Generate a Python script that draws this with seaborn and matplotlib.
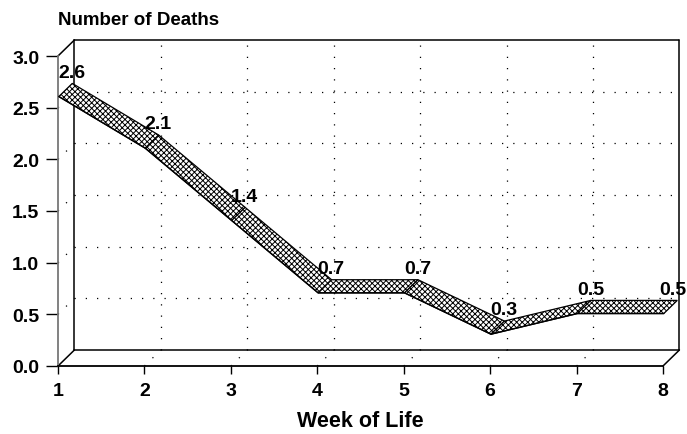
import seaborn as sns
import matplotlib.pyplot as plt
import pandas as pd
import numpy as np

# Data
weeks = [1, 2, 3, 4, 5, 6, 7, 8]
deaths = [2.6, 2.1, 1.4, 0.7, 0.7, 0.3, 0.5, 0.5]
y_ticks = [0.0, 0.5, 1.0, 1.5, 2.0, 2.5, 3.0]

df = pd.DataFrame({'Week': weeks, 'Deaths': deaths})

sns.set_style("white")
plt.rcParams['font.family'] = ['Liberation Sans', 'DejaVu Sans']
plt.rcParams['hatch.linewidth'] = 0.7
for key in ['text.color', 'axes.labelcolor', 'xtick.color', 'ytick.color']:
    plt.rcParams[key] = 'black'

fig = plt.figure(figsize=(6.87, 4.35), dpi=100)
ax = fig.add_axes([58 / 687, 68 / 435, 605 / 687, 310 / 435])
ax.set_xlim(1, 8)
ax.set_ylim(0, 3)

# fake 3D depth offset (data units)
dx, dy = 0.19, 0.155
r0, r1 = 0.05, 0.87  # ribbon depth from front to back
dots = (0, (1, 8))

# back wall grid (dotted)
for y in y_ticks[1:-1]:
    ax.plot([1 + dx, 8 + dx], [y + dy, y + dy], ls=dots, color='k', lw=0.9, clip_on=False)
    ax.plot([1, 1 + dx], [y, y + dy], ls=dots, color='k', lw=0.9, clip_on=False)
for x in weeks[1:-1]:
    ax.plot([x + dx, x + dx], [dy, 3 + dy], ls=dots, color='k', lw=0.9, clip_on=False)
    ax.plot([x, x + dx], [0, dy], ls=dots, color='k', lw=0.9, clip_on=False)

# box outlines
box = [([1 + dx, 8 + dx], [3 + dy, 3 + dy]), ([8 + dx, 8 + dx], [dy, 3 + dy]),
       ([1 + dx, 1 + dx], [dy, 3 + dy]), ([1 + dx, 8 + dx], [dy, dy]),
       ([1, 1 + dx], [3, 3 + dy]), ([1, 1 + dx], [0, dy]), ([8, 8 + dx], [0, dy])]
for xs, ys in box:
    ax.plot(xs, ys, color='k', lw=1.1, clip_on=False)

# ribbon segments
for i in range(len(weeks) - 1):
    x0, x1 = weeks[i], weeks[i + 1]
    y0, y1 = deaths[i], deaths[i + 1]
    px = [x0 + r0 * dx, x1 + r0 * dx, x1 + r1 * dx, x0 + r1 * dx]
    py = [y0 + r0 * dy, y1 + r0 * dy, y1 + r1 * dy, y0 + r1 * dy]
    ax.fill(px, py, facecolor='white', edgecolor='k', hatch='xxxxxx', lw=0.9, clip_on=False, zorder=3)

# front edge of the ribbon
front = df.assign(Week=df['Week'] + r0 * dx, Deaths=df['Deaths'] + r0 * dy)
sns.lineplot(data=front, x='Week', y='Deaths', color='k', lw=1.0, ax=ax, zorder=4)
ax.lines[-1].set_clip_on(False)

# value labels (last one pulled in so it stays inside the figure)
for i, (x, y) in enumerate(zip(weeks, deaths)):
    off = 0.16 if i < len(weeks) - 1 else 0.11
    ax.text(x + off, y + 0.2, f'{y:.1f}', ha='center', va='baseline',
            fontsize=14, fontweight='bold', zorder=5, clip_on=False)

# axes styling
for s in ['top', 'right']:
    ax.spines[s].set_visible(False)
ax.spines['left'].set_color('#777777')
ax.spines['left'].set_linewidth(1.3)
ax.spines['bottom'].set_color('k')
ax.spines['bottom'].set_linewidth(1.3)
ax.set_xticks(weeks)
ax.set_yticks(y_ticks)
ax.set_yticklabels([f'{v:.1f}' for v in y_ticks])
ax.tick_params(axis='y', direction='out', length=8.5, width=1, labelsize=14, pad=5, left=True)
ax.tick_params(axis='x', direction='out', length=5.5, width=1, labelsize=14, pad=6, bottom=True)
for lab in ax.get_xticklabels() + ax.get_yticklabels():
    lab.set_fontweight('bold')
ax.set_xlabel('Week of Life', fontsize=15.5, fontweight='bold', va='baseline')
ax.xaxis.set_label_coords((360 - 58) / 605, (367 - 427) / 310)
ax.set_ylabel('')
fig.text(58 / 687, 1 - 25 / 435, 'Number of Deaths', fontsize=13.5, fontweight='bold', va='baseline')
ax.set_facecolor('white')

fig.savefig('out.png', dpi=100)
